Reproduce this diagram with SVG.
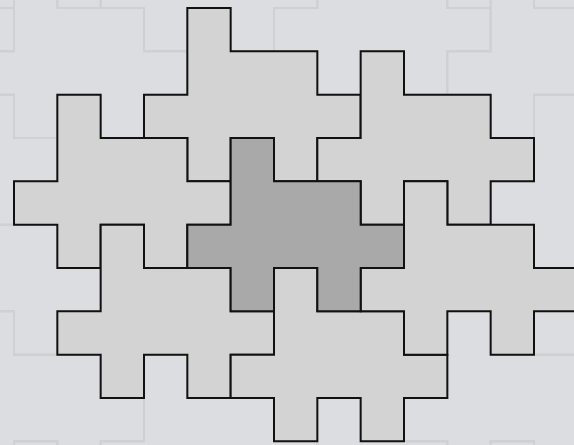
<svg xmlns="http://www.w3.org/2000/svg" xmlns:xlink="http://www.w3.org/1999/xlink" width="574" height="445" viewBox="0 0 574 445">
<style>
.bg{fill:none;stroke:#cfd0d2;stroke-width:2}
.tile{fill:#d3d3d3;stroke:#111;stroke-width:2;stroke-linejoin:miter}
.dark{fill:#a9a9a9}
</style>
<defs>
<path id="p" d="M0,0h43.333v43.333h86.667v43.333h43.333v43.333h-43.333v43.333h-43.333v-43.333h-43.333v43.333h-43.333v-43.333h-43.333v-43.333h43.333z"/>
</defs>
<rect width="574" height="445" fill="#dcdde0"/>
<g id="background-tiling">
<use href="#p" class="bg" x="-159.33" y="398"/>
<use href="#p" class="bg" x="14" y="441.33"/>
<use href="#p" class="bg" x="-29.33" y="311.33"/>
<use href="#p" class="bg" x="-72.67" y="181.33"/>
<use href="#p" class="bg" x="-116" y="51.33"/>
<use href="#p" class="bg" x="-159.33" y="-78.67"/>
<use href="#p" class="bg" x="144" y="354.67"/>
<use href="#p" class="bg" x="14" y="-35.33"/>
<use href="#p" class="bg" x="-29.33" y="-165.33"/>
<use href="#p" class="bg" x="317.33" y="398"/>
<use href="#p" class="bg" x="144" y="-122"/>
<use href="#p" class="bg" x="490.67" y="441.33"/>
<use href="#p" class="bg" x="447.33" y="311.33"/>
<use href="#p" class="bg" x="317.33" y="-78.67"/>
<use href="#p" class="bg" x="577.33" y="224.67"/>
<use href="#p" class="bg" x="534" y="94.67"/>
<use href="#p" class="bg" x="490.67" y="-35.33"/>
<use href="#p" class="bg" x="447.33" y="-165.33"/>
</g>
<g id="tile-top"><use href="#p" class="tile" x="187.33" y="8"/></g>
<g id="tile-top-right"><use href="#p" class="tile" x="360.67" y="51.33"/></g>
<g id="tile-left"><use href="#p" class="tile" x="57.33" y="94.67"/></g>
<g id="tile-bottom-left"><use href="#p" class="tile" x="100.67" y="224.67"/></g>
<g id="tile-bottom"><use href="#p" class="tile" x="274" y="268"/></g>
<g id="tile-right"><use href="#p" class="tile" x="404" y="181.33"/></g>
<g id="tile-center"><use href="#p" class="tile dark" x="230.67" y="138"/></g>
</svg>
